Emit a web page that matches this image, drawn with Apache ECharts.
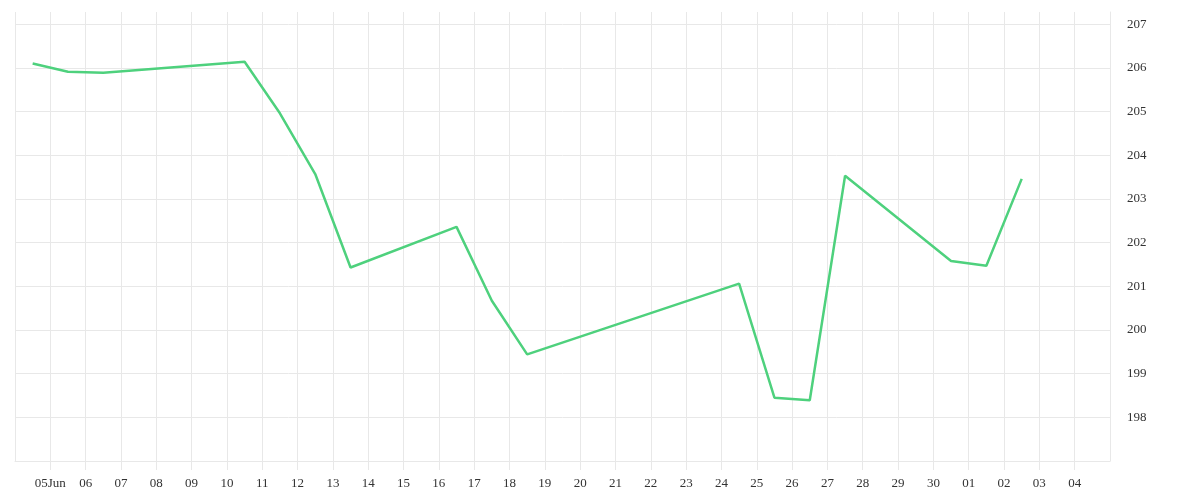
<!DOCTYPE html>
<html>
<head>
<meta charset="utf-8">
<script src="https://cdn.jsdelivr.net/npm/echarts@6/dist/echarts.min.js"></script>
<style>
html,body{margin:0;padding:0;background:#fff;}
#chart{width:1200px;height:500px;}
</style>
</head>
<body>
<div id="chart"></div>
<script>
// Data
var dates = ['2018-06-04','2018-06-05','2018-06-06','2018-06-10','2018-06-11','2018-06-12','2018-06-13',
             '2018-06-16','2018-06-17','2018-06-18','2018-06-24','2018-06-25','2018-06-26','2018-06-27',
             '2018-06-30','2018-07-01','2018-07-02'];
var values = [206.10, 205.91, 205.89, 206.14, 204.96, 203.57, 201.43,
              202.36, 200.67, 199.44, 201.06, 198.45, 198.39, 203.53,
              201.58, 201.47, 203.46];
var yTickValues = [198, 199, 200, 201, 202, 203, 204, 205, 206, 207];
var ySplitValues = [197, 198, 199, 200, 201, 202, 203, 204, 205, 206, 207];
var monthNames = ['Jan','Feb','Mar','Apr','May','Jun','Jul','Aug','Sep','Oct','Nov','Dec'];

var DAY = 86400000;
function toTs(s){ var p = s.split('-'); return Date.UTC(+p[0], +p[1]-1, +p[2]); }
var xMin = toTs('2018-06-04');
var xMax = toTs('2018-07-05');
// points sit at midday of each date
var seriesData = dates.map(function(d, i){ return [toTs(d) + DAY/2, values[i]]; });

var font = 'Liberation Serif';
var gridColor = '#e8e8e8';
var chart = echarts.init(document.getElementById('chart'));
chart.setOption({
  animation: false,
  grid: {left: 15, right: 90, top: 12, bottom: 39, containLabel: false},
  xAxis: {
    type: 'value',
    min: xMin,
    max: xMax,
    interval: DAY,
    axisLine: {show: true, lineStyle: {color: gridColor, width: 1}},
    axisTick: {show: true, length: 9, lineStyle: {color: gridColor}},
    splitLine: {show: true, lineStyle: {color: gridColor, width: 1}},
    axisLabel: {
      showMinLabel: false,
      showMaxLabel: false,
      color: '#333',
      fontFamily: font,
      fontSize: 13,
      margin: 16,
      formatter: function(v){
        var d = new Date(v);
        var dd = ('0' + d.getUTCDate()).slice(-2);
        if (v === xMin + DAY) return dd + monthNames[d.getUTCMonth()];
        return dd;
      }
    }
  },
  yAxis: {
    type: 'value',
    position: 'right',
    min: 197,
    max: 207.28,
    axisLine: {show: true, lineStyle: {color: gridColor, width: 1}},
    axisTick: {show: false, customValues: ySplitValues},
    splitLine: {show: true, lineStyle: {color: gridColor, width: 1}},
    axisLabel: {
      customValues: yTickValues,
      color: '#333',
      fontFamily: font,
      fontSize: 13,
      margin: 17,
      padding: [5, 0, 0, 0]
    }
  },
  series: [{
    type: 'line',
    data: seriesData,
    showSymbol: false,
    symbol: 'none',
    lineStyle: {color: '#4ed17d', width: 2.5},
    itemStyle: {color: '#4ed17d'}
  }]
});
</script>
</body>
</html>
